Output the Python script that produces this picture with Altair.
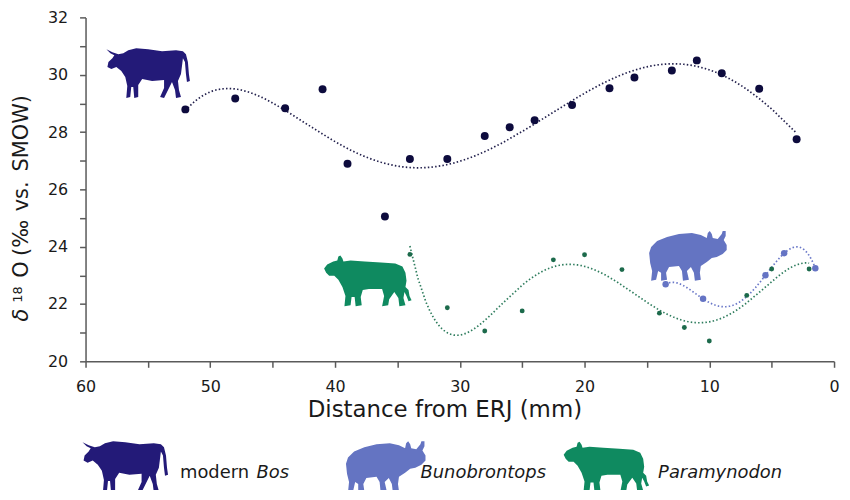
import altair as alt
import pandas as pd

# ---- data ----
bos_x = [52, 48, 44, 41, 39, 36, 34, 31, 28, 26, 24, 21, 18, 16, 13, 11, 9, 6, 3]
bos_y = [28.79, 29.17, 28.83, 29.49, 26.89, 25.05, 27.06, 27.06, 27.86, 28.17,
         28.41, 28.94, 29.53, 29.90, 30.15, 30.50, 30.05, 29.51, 27.75]
bun_x = [13.5, 10.5, 5.5, 4.0, 1.5]
bun_y = [22.69, 22.18, 23.00, 23.77, 23.25]
par_x = [34, 31, 28, 25, 22.5, 20, 17, 14, 12, 10, 7, 5, 2]
par_y = [23.73, 21.87, 21.06, 21.76, 23.54, 23.72, 23.20, 21.68, 21.18, 20.71,
         22.30, 23.22, 23.22]
x_ticks = list(range(0, 61, 5))
y_ticks = list(range(20, 33, 1))

bos = pd.DataFrame({"x": bos_x, "y": bos_y})
bun = pd.DataFrame({"x": bun_x, "y": bun_y})
par = pd.DataFrame({"x": par_x, "y": par_y})
one = pd.DataFrame({"k": [0]})

FONT = "DejaVu Sans"
TXT = "#1a1a1a"
AX = "#5a5a5a"
BOS_PT, BOS_LN, BOS_SIL = "#0d0b3d", "#23214d", "#231a78"
BUN_PT, BUN_LN, BUN_SIL = "#6574c4", "#6a78c8", "#6474c2"
PAR_PT, PAR_LN, PAR_SIL = "#1c6a4b", "#2f7d5e", "#0f8a60"

X = alt.X("x:Q", scale=alt.Scale(domain=[0, 60], reverse=True, nice=False, zero=False),
          axis=alt.Axis(values=x_ticks, labelExpr="datum.value % 10 == 0 ? datum.label : ''",
                        title="Distance from ERJ (mm)", titleFont=FONT, titleFontSize=23,
                        titleFontWeight="normal", titleColor=TXT, titleX=361, titleY=49,
                        titleAlign="center", titleBaseline="middle",
                        labelFont=FONT, labelFontSize=16, labelColor=TXT, labelPadding=11,
                        labelFlush=False, tickSize=6, tickWidth=1.5, tickColor=AX,
                        domainColor=AX, domainWidth=1.5, grid=False))
Y = alt.Y("y:Q", scale=alt.Scale(domain=[20, 32], nice=False, zero=False),
          axis=alt.Axis(values=y_ticks, labelExpr="datum.value % 2 == 0 ? datum.label : ''",
                        title=None, labelFont=FONT, labelFontSize=16, labelColor=TXT,
                        labelPadding=12, tickSize=6, tickWidth=1.5, tickColor=AX,
                        domainColor=AX, domainWidth=1.5, grid=False))


def trend(df, order, color):
    return alt.Chart(df).transform_regression("x", "y", method="poly", order=order).mark_line(
        color=color, strokeDash=[1.5, 2.2], strokeWidth=1.7).encode(x=X, y=Y)


def pts(df, color, size):
    return alt.Chart(df).mark_circle(color=color, size=size, opacity=1).encode(x=X, y=Y)


# ---- silhouette outlines (shape decoration, pixel sketch) ----
COW = [(0, 1), (6, 4), (12, 6), (17, 5), (22, 2), (30, 0), (42, 1), (56, 3), (70, 2), (77, 3),
       (80, 6), (82, 14), (83, 26), (84, 33), (81, 34), (80, 26), (79, 14), (77, 10), (76, 18),
       (75, 26), (72, 33), (73, 42), (75, 49), (70, 50), (69, 42), (66, 34), (62, 42), (58, 50),
       (54, 49), (58, 40), (58, 32), (46, 33), (36, 31), (32, 37), (32, 49), (28, 50), (27, 39),
       (25, 39), (24, 49), (20, 50), (21, 38), (19, 29), (15, 23), (10, 19), (5, 21), (1, 19),
       (2, 14), (6, 10), (8, 7), (4, 5)]
RHINO = [(0, 22), (2, 16), (8, 10), (18, 6), (30, 3), (43, 2), (52, 4), (58, 7), (59, 2), (61, 0),
         (63, 3), (64, 7), (69, 8), (73, 3), (74, 0), (77, 0), (77, 5), (75, 9), (78, 14), (78, 19),
         (74, 23), (68, 26), (63, 27), (58, 31), (52, 35), (51, 42), (52, 49), (46, 50), (45, 42),
         (42, 36), (38, 40), (40, 49), (34, 50), (33, 40), (30, 35), (20, 36), (17, 42), (18, 49),
         (12, 50), (12, 42), (9, 40), (7, 49), (2, 50), (3, 40), (1, 32)]
TAPIR = [(0, 13), (3, 9), (9, 6), (13, 5), (14, 1), (16, 0), (18, 3), (19, 6), (26, 5), (40, 6),
         (56, 7), (70, 8), (77, 11), (80, 17), (81, 25), (80, 31), (83, 34), (84, 40), (86, 44),
         (83, 45), (81, 40), (79, 36), (78, 42), (80, 49), (74, 50), (73, 42), (69, 36), (64, 43),
         (63, 49), (57, 50), (59, 40), (57, 33), (44, 33), (38, 34), (36, 41), (37, 49), (31, 50),
         (30, 41), (27, 41), (26, 49), (20, 50), (21, 40), (18, 31), (14, 24), (10, 20), (5, 20),
         (2, 17)]


def to_path(p):
    xs = [a for a, _ in p]
    ys = [b for _, b in p]
    cx, cy = (min(xs) + max(xs)) / 2, (min(ys) + max(ys)) / 2
    h = (max(xs) - min(xs)) / 2
    return "M" + " L".join(f"{(a - cx) / h:.3f},{(b - cy) / h:.3f}" for a, b in p) + " Z"


def sil(shape, color, cx, cy, w):
    return alt.Chart(one).mark_point(shape=to_path(shape), size=w * w, filled=True, fill=color,
                                     opacity=1, strokeWidth=0).encode(
        x=alt.value(cx), y=alt.value(cy))


def txt(s, x, y, size=18, style="normal", angle=0, color=TXT):
    kw = dict(text=s, font=FONT, fontSize=size, fontStyle=style, color=color,
              align="left", baseline="middle")
    if angle:
        kw["angle"] = angle
    return alt.Chart(one).mark_text(**kw).encode(x=alt.value(x), y=alt.value(y))


# plot area origin is at page (86, 16)
layers = [
    trend(bos, 5, BOS_LN), trend(par, 5, PAR_LN), trend(bun, 4, BUN_LN),
    pts(bos, BOS_PT, 64), pts(par, PAR_PT, 24), pts(bun, BUN_PT, 42),
    # silhouettes in plot
    sil(COW, BOS_SIL, 63, 56, 84), sil(TAPIR, PAR_SIL, 284, 265, 88), sil(RHINO, BUN_SIL, 606, 240, 78),
    # legend
    sil(COW, BOS_SIL, 40, 452, 86), txt("modern", 95, 458), txt("Bos", 172, 458, style="italic"),
    sil(RHINO, BUN_SIL, 302, 452, 80), txt("Bunobrontops", 337, 458, style="italic"),
    sil(TAPIR, PAR_SIL, 524, 452, 86), txt("Paramynodon", 576, 458, style="italic"),
    # y-axis title, pieces reading bottom-to-top
    txt("δ", -64, 306, size=21, style="italic", angle=270),
    txt("18", -68, 287, size=13, angle=270),
    txt("O", -64, 262, size=21, angle=270),
    txt("(‰", -64, 240, size=21, angle=270),
    txt("vs.", -64, 195, size=21, angle=270),
    txt("SMOW)", -64, 155, size=21, angle=270),
]

chart = alt.layer(*layers).properties(
    width=753, height=346, autosize="none",
    padding={"left": 78, "top": 8, "right": 8, "bottom": 128},
).configure_view(stroke=None)

chart.save("out.html", embed_options={"renderer": "svg", "actions": False})
